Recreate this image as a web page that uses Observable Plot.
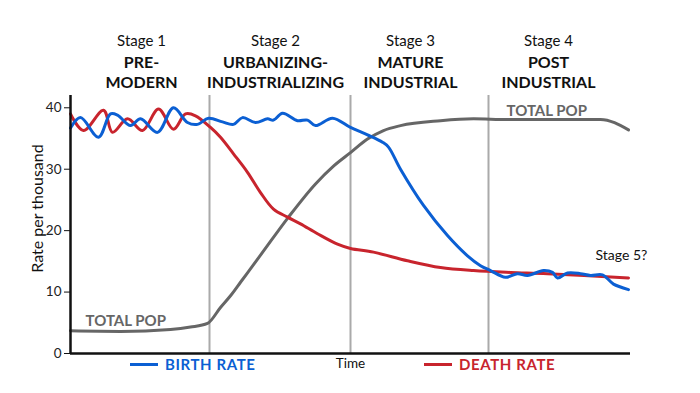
<!DOCTYPE html>
<html>
<head>
<meta charset="utf-8">
<script src="https://cdn.jsdelivr.net/npm/d3@7"></script>
<script src="https://cdn.jsdelivr.net/npm/@observablehq/plot@0.6"></script>
<style>
  body { margin: 0; background: #fff; font-family: Lato, "Open Sans", sans-serif; }
  #wrap { position: relative; width: 700px; height: 393px; }
  .leg { position: absolute; top: 355px; display: flex; align-items: center; font-weight: bold; font-size: 15px; letter-spacing: 0.6px; }
  .leg span.sw { display: inline-block; width: 28px; height: 3px; margin-right: 7px; }
</style>
</head>
<body>
<div id="wrap"></div>
<script>
// Time (arbitrary units) and rate per thousand
const birth = [[0,36.7],[10,38.4],[28,35.2],[40,39.0],[47,38.8],[60,37.1],[70,38.2],[87,36.0],[103,40.0],[117,37.6],[127,37.3],[138,38.3],[152,37.7],[163,37.3],[172,38.4],[185,37.6],[197,38.2],[203,38.0],[212,39.1],[227,37.9],[237,38.0],[245,37.1],[262,38.3],[280,36.8],[297,35.6],[312,34.4],[318,33.6],[330,30.0],[353,24.1],[377,19.2],[397,15.9],[410,14.3],[420,13.5],[435,12.4],[447,13.0],[457,12.7],[473,13.5],[482,13.2],[487,12.3],[497,13.1],[510,13.0],[520,12.7],[532,12.8],[543,11.3],[558,10.4]];
const death = [[0,39.0],[13,36.3],[33,39.6],[42,36.0],[57,38.2],[72,36.3],[88,39.8],[103,36.5],[115,39.0],[125,38.7],[140,36.8],[150,35.2],[163,32.5],[177,29.5],[190,26.2],[203,23.5],[217,22.2],[230,21.1],[247,19.5],[267,17.8],[280,17.1],[303,16.5],[337,15.1],[370,14.0],[403,13.5],[440,13.2],[477,13.0],[558,12.3]];
const totalPop = [[0,3.7],[50,3.6],[100,3.9],[120,4.3],[137,4.9],[150,7.5],[160,9.4],[170,11.6],[190,16.0],[218,22.2],[245,27.6],[263,30.5],[280,32.7],[297,34.9],[313,36.3],[330,37.1],[370,37.9],[403,38.2],[437,38.1],[530,38.1],[558,36.4]];
const stageBounds = [139, 280, 418];
const stageNames = ["Stage 1", "Stage 2", "Stage 3", "Stage 4"];
const stageTitles = ["PRE-\nMODERN", "URBANIZING-\nINDUSTRIALIZING", "MATURE\nINDUSTRIAL", "POST\nINDUSTRIAL"];
const stageLabelT = [71, 205, 340, 478];
const yTicks = [0, 10, 20, 30, 40];
const popLabels = [{t: 436, v: 39.5, text: "TOTAL POP"}, {t: 15, v: 5.25, text: "TOTAL POP"}];
const stage5 = [{t: 525, v: 15.9, text: "Stage 5?"}];

const BLUE = "#0b5fd3", RED = "#c8242d", GRAY = "#666666";
const toObj = a => a.map(([t, v]) => ({t, v}));
const stages = stageNames.map((n, i) => ({t: stageLabelT[i], name: n, title: stageTitles[i]}));

const chart = Plot.plot({
  width: 700, height: 393,
  marginLeft: 70, marginRight: 70, marginTop: 95, marginBottom: 40,
  style: {fontFamily: "Lato, 'Open Sans', sans-serif", fontSize: "13px", color: "#222", background: "#fff"},
  x: {domain: [0, 560], axis: null},
  y: {domain: [0, 42]},
  marks: [
    Plot.ruleX(stageBounds, {stroke: "#aaaaaa", strokeWidth: 2}),
    Plot.line(toObj(totalPop), {x: "t", y: "v", stroke: GRAY, strokeWidth: 3, curve: "monotone-x"}),
    Plot.line(toObj(death), {x: "t", y: "v", stroke: RED, strokeWidth: 3, curve: "catmull-rom"}),
    Plot.line(toObj(birth), {x: "t", y: "v", stroke: BLUE, strokeWidth: 3, curve: "catmull-rom"}),
    Plot.axisY({ticks: yTicks, tickSize: 6, tickPadding: 3, fontSize: 13.5, label: null, stroke: "#111"}),
    Plot.ruleX([0], {stroke: "#111", strokeWidth: 2.5}),
    Plot.ruleY([0], {stroke: "#111", strokeWidth: 2.5}),
    Plot.text(popLabels, {x: "t", y: "v", text: "text", textAnchor: "start", fill: GRAY, fontSize: 15, fontWeight: "bold", letterSpacing: "0.5px"}),
    Plot.text(stage5, {x: "t", y: "v", text: "text", textAnchor: "start", fill: "#111", fontSize: 14}),
    Plot.text(stages, {x: "t", text: "name", frameAnchor: "top", lineAnchor: "middle", dy: -54, fontSize: 15, fill: "#111"}),
    Plot.text(stages, {x: "t", text: "title", frameAnchor: "top", lineAnchor: "middle", dy: -24, fontSize: 16, fontWeight: "bold", lineHeight: 1.25, fill: "#111", letterSpacing: "0.3px"}),
    Plot.text([{t: 280, text: "Time"}], {x: "t", text: "text", frameAnchor: "bottom", lineAnchor: "middle", dy: 10, fontSize: 13.5, fill: "#111"}),
    Plot.text(["Rate per thousand"], {frameAnchor: "left", textAnchor: "middle", lineAnchor: "middle", dx: -33, dy: -16, rotate: -90, fontSize: 16, fill: "#111"})
  ]
});
const wrap = document.getElementById("wrap");
wrap.appendChild(chart);

const legendItems = [{label: "BIRTH RATE", color: BLUE, left: 130}, {label: "DEATH RATE", color: RED, left: 424}];
for (const it of legendItems) {
  const d = document.createElement("div");
  d.className = "leg";
  d.style.left = it.left + "px";
  d.style.color = it.color;
  d.innerHTML = `<span class="sw" style="background:${it.color}"></span>${it.label}`;
  wrap.appendChild(d);
}
</script>
</body>
</html>
